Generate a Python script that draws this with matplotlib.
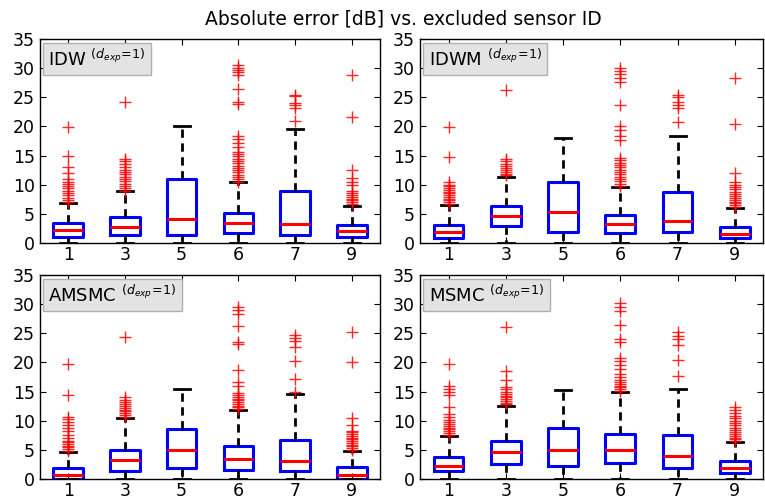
import matplotlib
matplotlib.use('Agg')
import matplotlib.pyplot as plt

plt.rcParams['font.family'] = 'DejaVu Sans'
plt.rcParams['mathtext.fontset'] = 'dejavusans'

sensor_ids = ['1', '3', '5', '6', '7', '9']
methods = ['IDW', 'IDWM', 'AMSMC', 'MSMC']

# box stats: q1, median, q3, whisker high (whisker low is 0)
idw_q1 = [1.1, 1.4, 1.4, 1.7, 1.4, 1.0]
idw_med = [2.2, 2.7, 4.2, 3.4, 3.2, 2.1]
idw_q3 = [3.4, 4.4, 11.0, 5.2, 9.0, 3.1]
idw_hi = [6.8, 8.9, 20.0, 10.4, 19.5, 6.4]

idwm_q1 = [0.9, 3.0, 1.9, 1.7, 1.8, 0.8]
idwm_med = [1.9, 4.7, 5.3, 3.2, 3.7, 1.5]
idwm_q3 = [3.1, 6.4, 10.5, 4.8, 8.7, 2.8]
idwm_hi = [6.5, 11.4, 18.0, 9.6, 18.3, 6.0]

amsmc_q1 = [0.0, 1.3, 1.8, 1.5, 1.3, 0.0]
amsmc_med = [0.6, 3.3, 4.9, 3.5, 3.1, 0.6]
amsmc_q3 = [1.9, 5.0, 8.5, 5.6, 6.7, 2.0]
amsmc_hi = [4.7, 10.5, 15.4, 11.8, 14.6, 4.8]

msmc_q1 = [1.3, 2.6, 2.2, 2.7, 1.9, 1.0]
msmc_med = [2.3, 4.6, 5.0, 5.0, 4.0, 1.9]
msmc_q3 = [3.7, 6.6, 8.8, 7.7, 7.5, 3.1]
msmc_hi = [7.4, 12.6, 15.3, 15.0, 15.4, 6.4]

# outliers (+ markers), estimated
idw_out = [
    [7.0, 7.4, 7.8, 8.2, 8.6, 9.0, 9.4, 9.8, 10.2, 10.5, 11.0, 12.0, 13.0, 15.0, 19.9],
    [9.0, 9.4, 9.8, 10.2, 10.6, 11.0, 11.4, 11.8, 12.2, 12.6, 13.0, 13.5, 14.0, 14.5, 24.2],
    [],
    [10.5, 10.9, 11.3, 11.7, 12.1, 12.5, 12.9, 13.3, 13.7, 14.1, 14.5, 14.9, 15.3, 15.7, 16.5,
     17.2, 17.8, 18.4, 23.8, 24.2, 26.5, 28.9, 29.3, 29.7, 30.1, 30.5],
    [20.9, 23.1, 23.6, 24.0, 25.2, 25.4],
    [6.7, 7.0, 7.3, 7.6, 7.9, 8.2, 8.5, 9.0, 10.0, 10.5, 11.2, 12.5, 21.6, 28.8],
]
idwm_out = [
    [6.7, 7.0, 7.3, 7.6, 7.9, 8.2, 8.5, 8.8, 9.1, 9.4, 9.7, 10.0, 10.4, 14.8, 19.9],
    [11.6, 11.9, 12.2, 12.5, 12.8, 13.2, 13.6, 14.0, 14.5, 26.2],
    [],
    [9.8, 10.2, 10.6, 11.0, 11.4, 11.8, 12.2, 12.6, 13.0, 13.4, 13.8, 14.2, 14.6, 17.6, 18.4,
     19.4, 20.0, 23.7, 27.6, 28.4, 29.0, 29.5, 30.0],
    [20.8, 23.1, 23.6, 24.2, 25.0, 25.4],
    [6.2, 6.5, 6.8, 7.1, 7.4, 7.7, 8.0, 8.4, 8.8, 9.2, 9.6, 10.0, 10.4, 12.0, 20.4, 28.3],
]
amsmc_out = [
    [4.8, 5.1, 5.4, 5.7, 6.0, 6.3, 6.6, 7.0, 7.6, 8.2, 8.8, 9.3, 9.8, 10.3, 10.7, 14.4, 19.7],
    [10.7, 11.0, 11.3, 11.6, 11.9, 12.2, 12.5, 12.8, 13.2, 13.6, 14.0, 24.3],
    [],
    [12.0, 12.3, 12.6, 12.9, 13.2, 13.5, 13.8, 14.1, 14.4, 14.8, 16.0, 16.7, 18.7, 23.2,
     23.5, 26.3, 28.4, 29.0, 29.5],
    [15.0, 17.2, 20.2, 22.6, 23.6, 24.2, 24.7],
    [5.0, 5.3, 5.6, 5.9, 6.2, 6.5, 6.8, 7.1, 7.4, 7.7, 8.0, 8.2, 9.2, 10.4, 20.0, 25.2],
]
msmc_out = [
    [7.6, 7.9, 8.2, 8.5, 8.8, 9.1, 9.4, 9.8, 10.2, 10.6, 11.2, 12.4, 14.4, 14.9, 15.4,
     15.9, 19.7],
    [12.8, 13.1, 13.4, 13.7, 14.0, 14.3, 14.6, 15.0, 15.4, 15.7, 17.0, 18.5, 26.0],
    [],
    [15.1, 15.4, 15.7, 16.0, 16.3, 16.6, 17.0, 17.5, 18.1, 18.8, 19.5, 20.2, 20.8, 23.5,
     24.0, 26.5, 28.9, 29.5, 30.2],
    [17.6, 20.5, 23.0, 24.0, 24.6, 25.2],
    [6.5, 6.8, 7.1, 7.4, 7.7, 8.0, 8.4, 8.8, 9.2, 9.6, 10.0, 10.4, 10.8, 11.3, 11.8, 12.4],
]

q1s = [idw_q1, idwm_q1, amsmc_q1, msmc_q1]
meds = [idw_med, idwm_med, amsmc_med, msmc_med]
q3s = [idw_q3, idwm_q3, amsmc_q3, msmc_q3]
his = [idw_hi, idwm_hi, amsmc_hi, msmc_hi]
outs = [idw_out, idwm_out, amsmc_out, msmc_out]

fig = plt.figure(figsize=(7.65, 5.01), dpi=100)
positions = [[0.052, 0.515, 0.445, 0.407],
             [0.549, 0.515, 0.449, 0.407],
             [0.052, 0.044, 0.445, 0.407],
             [0.549, 0.044, 0.449, 0.407]]

for k in range(4):
    ax = fig.add_axes(positions[k])
    stats = []
    for i in range(len(sensor_ids)):
        stats.append({'med': meds[k][i], 'q1': q1s[k][i], 'q3': q3s[k][i],
                      'whislo': 0.0, 'whishi': his[k][i], 'fliers': outs[k][i]})
    ax.bxp(stats, widths=0.52, capwidths=0.28, showfliers=True,
           boxprops=dict(color='#0000ff', linewidth=2.2),
           medianprops=dict(color='#ff0000', linewidth=2.2),
           whiskerprops=dict(color='black', linewidth=2, linestyle=(0, (3, 2))),
           capprops=dict(color='black', linewidth=2),
           flierprops=dict(marker='+', markeredgecolor='#ff0000', markersize=9,
                           markeredgewidth=1.0, alpha=0.85))
    ax.set_xlim(0.5, 6.5)
    ax.set_ylim(0, 35)
    ax.set_yticks(range(0, 36, 5))
    ax.set_xticks(range(1, 7))
    ax.set_xticklabels(sensor_ids)
    ax.tick_params(direction='in', top=True, right=True, labelsize=12.5, length=4)
    ax.tick_params(axis='x', pad=2.5)
    for s in ax.spines.values():
        s.set_linewidth(1.0)
    ax.text(0.025, 0.955, methods[k] + r' $^{(d_{exp}\!=\!1)}$', transform=ax.transAxes,
            fontsize=13, va='top', ha='left',
            bbox=dict(boxstyle='square,pad=0.3', facecolor='#e3e3e3', edgecolor='#b0b0b0'))

fig.text(0.527, 0.963, 'Absolute error [dB] vs. excluded sensor ID', ha='center', va='center',
         fontsize=13.5)

fig.savefig('out.png', dpi=100)
